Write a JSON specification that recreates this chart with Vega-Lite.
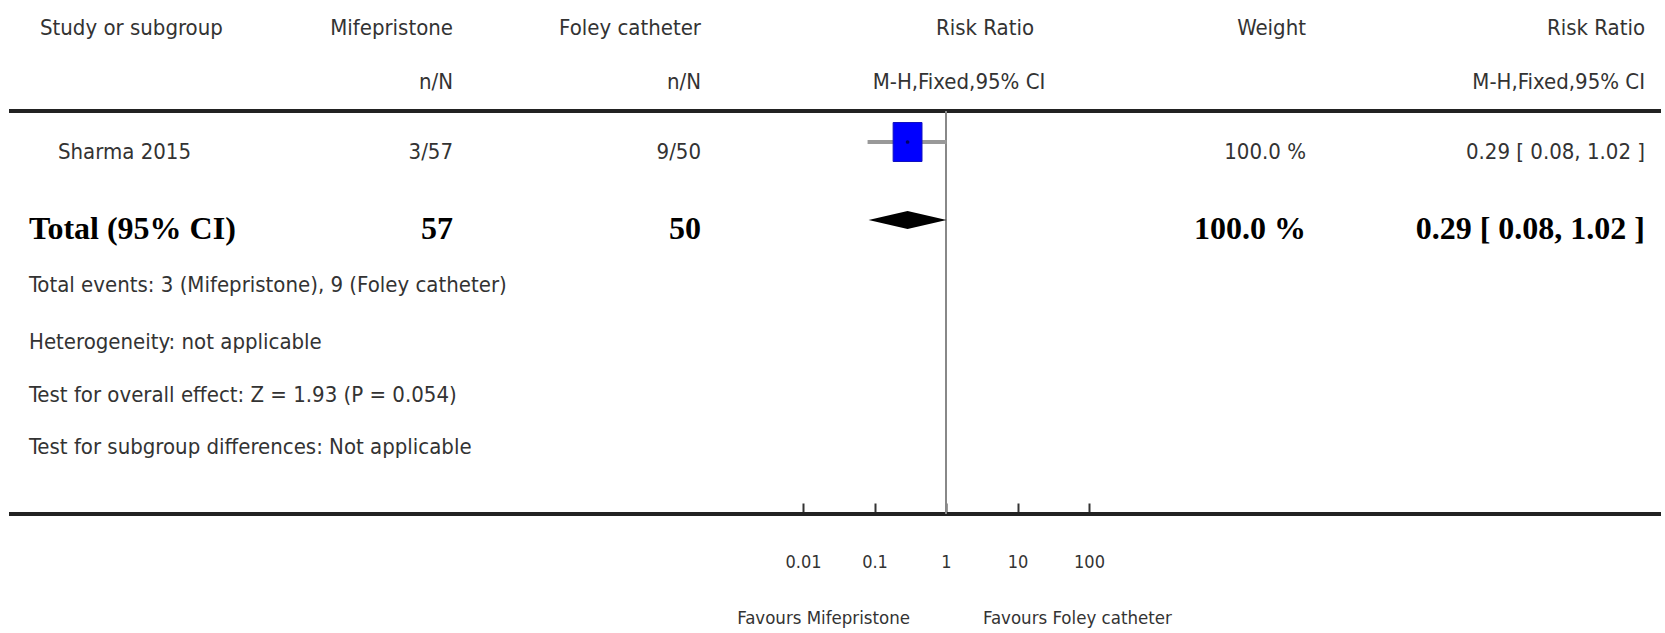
{
  "$schema": "https://vega.github.io/schema/vega-lite/v6.json",
  "width": 1665,
  "height": 514,
  "autosize": {"type": "none"},
  "padding": {"left": 0, "top": 0, "right": 0, "bottom": 119},
  "background": "white",
  "config": {"view": {"stroke": null}},
  "datasets": {
    "cells": [
      {"row": 0, "col": 2, "text": "Study or subgroup"},
      {"row": 0, "col": 4, "text": "Mifepristone"},
      {"row": 0, "col": 5, "text": "Foley catheter"},
      {"row": 0, "col": 7, "text": "Risk Ratio"},
      {"row": 0, "col": 8, "text": "Weight"},
      {"row": 0, "col": 9, "text": "Risk Ratio"},
      {"row": 1, "col": 4, "text": "n/N"},
      {"row": 1, "col": 5, "text": "n/N"},
      {"row": 1, "col": 6, "text": "M-H,Fixed,95% CI"},
      {"row": 1, "col": 9, "text": "M-H,Fixed,95% CI"},
      {"row": 3, "col": 3, "text": "Sharma 2015"},
      {"row": 3, "col": 4, "text": "3/57"},
      {"row": 3, "col": 5, "text": "9/50"},
      {"row": 3, "col": 8, "text": "100.0 %"},
      {"row": 3, "col": 9, "text": "0.29 [ 0.08, 1.02 ]"},
      {"row": 4, "col": 1, "text": "Total (95% CI)"},
      {"row": 4, "col": 4, "text": "57"},
      {"row": 4, "col": 5, "text": "50"},
      {"row": 4, "col": 8, "text": "100.0 %"},
      {"row": 4, "col": 9, "text": "0.29 [ 0.08, 1.02 ]"},
      {"row": 5, "col": 1, "text": "Total events: 3 (Mifepristone), 9 (Foley catheter)"},
      {"row": 6, "col": 1, "text": "Heterogeneity: not applicable"},
      {"row": 7, "col": 1, "text": "Test for overall effect: Z = 1.93 (P = 0.054)"},
      {"row": 8, "col": 1, "text": "Test for subgroup differences: Not applicable"}
    ],
    "rules": [
      {"kind": "top", "row": 2, "col": 0, "col2": 10},
      {"kind": "bottom", "row": 9, "col": 0, "col2": 10}
    ],
    "studies": [
      {"study": "Sharma 2015", "row": 3, "rr": 0.29, "lo": 0.08, "hi": 1.02, "weight": 100}
    ],
    "total": [
      {"row": 4, "rr": 0.29, "lo": 0.08, "hi": 1.02}
    ],
    "nullLine": [
      {"rr": 1, "row": 2, "row2": 9}
    ],
    "favours": [
      {"side": "left", "rr": 1, "row": 10, "text": "Favours Mifepristone"},
      {"side": "right", "rr": 1, "row": 10, "text": "Favours Foley catheter"}
    ]
  },
  "encoding": {
    "y": {
      "field": "row",
      "type": "quantitative",
      "scale": {
        "domain": [0, 1, 2, 3, 4, 5, 6, 7, 8, 9, 10],
        "range": [18, 72, 111, 142, 220, 275, 332, 385, 437, 514, 607],
        "nice": false,
        "zero": false
      },
      "axis": null
    }
  },
  "layer": [
    {
      "encoding": {
        "x": {
          "field": "col",
          "type": "quantitative",
          "scale": {
            "domain": [0, 1, 2, 3, 4, 5, 6, 7, 8, 9, 10],
            "range": [9, 29, 40, 58, 453, 701, 959, 985, 1306, 1645, 1661],
            "nice": false,
            "zero": false
          },
          "axis": null
        }
      },
      "layer": [
        {
          "data": {"name": "rules"},
          "mark": {"type": "rule", "color": "#222222", "strokeWidth": 4},
          "encoding": {"x2": {"field": "col2"}}
        },
        {
          "data": {"name": "cells"},
          "transform": [{"filter": "datum.row != 4 && datum.col <= 3"}],
          "mark": {"type": "text", "align": "left", "baseline": "alphabetic", "dy": 17, "font": "DejaVu Sans Condensed, DejaVu Sans, sans-serif", "fontSize": 22, "color": "#333333"},
          "encoding": {"text": {"field": "text"}}
        },
        {
          "data": {"name": "cells"},
          "transform": [{"filter": "datum.row != 4 && (datum.col == 4 || datum.col == 5 || datum.col == 8 || datum.col == 9)"}],
          "mark": {"type": "text", "align": "right", "baseline": "alphabetic", "dy": 17, "font": "DejaVu Sans Condensed, DejaVu Sans, sans-serif", "fontSize": 22, "color": "#333333"},
          "encoding": {"text": {"field": "text"}}
        },
        {
          "data": {"name": "cells"},
          "transform": [{"filter": "datum.col == 6 || datum.col == 7"}],
          "mark": {"type": "text", "align": "center", "baseline": "alphabetic", "dy": 17, "font": "DejaVu Sans Condensed, DejaVu Sans, sans-serif", "fontSize": 22, "color": "#333333"},
          "encoding": {"text": {"field": "text"}}
        },
        {
          "data": {"name": "cells"},
          "transform": [{"filter": "datum.row == 4 && datum.col <= 3"}],
          "mark": {"type": "text", "align": "left", "baseline": "alphabetic", "dy": 19, "font": "Liberation Serif, DejaVu Serif, serif", "fontWeight": "bold", "fontSize": 32, "color": "#000000"},
          "encoding": {"text": {"field": "text"}}
        },
        {
          "data": {"name": "cells"},
          "transform": [{"filter": "datum.row == 4 && datum.col >= 4"}],
          "mark": {"type": "text", "align": "right", "baseline": "alphabetic", "dy": 19, "font": "Liberation Serif, DejaVu Serif, serif", "fontWeight": "bold", "fontSize": 32, "color": "#000000"},
          "encoding": {"text": {"field": "text"}}
        }
      ]
    },
    {
      "layer": [
        {
          "data": {"name": "nullLine"},
          "mark": {"type": "rule", "color": "#888888", "strokeWidth": 2},
          "encoding": {
            "x": {
              "field": "rr", "type": "quantitative",
              "scale": {"type": "log", "domain": [0.01, 100], "range": [803, 1089], "nice": false},
              "axis": {"orient": "bottom", "values": [0.01, 0.1, 1, 10, 100], "format": "~g", "domain": false, "grid": false, "offset": -11, "tickSize": 11, "tickWidth": 2, "tickColor": "#333333", "labelFont": "DejaVu Sans Condensed, DejaVu Sans, sans-serif", "labelFontSize": 18, "labelColor": "#333333", "labelPadding": 39, "labelFlush": false, "labelOverlap": false, "title": null}
            },
            "y2": {"field": "row2"}
          }
        },
        {
          "data": {"name": "studies"},
          "mark": {"type": "rule", "color": "#999999", "strokeWidth": 4},
          "encoding": {
            "x": {"field": "lo", "type": "quantitative", "scale": {"type": "log", "domain": [0.01, 100], "range": [803, 1089], "nice": false}},
            "x2": {"field": "hi"}
          }
        },
        {
          "data": {"name": "studies"},
          "mark": {"type": "point", "shape": "M-0.74,-1L0.74,-1L0.74,1L-0.74,1Z", "filled": true, "color": "#0000FF", "opacity": 1, "size": 1521, "stroke": "#1010c0", "strokeWidth": 1},
          "encoding": {
            "x": {"field": "rr", "type": "quantitative", "scale": {"type": "log", "domain": [0.01, 100], "range": [803, 1089], "nice": false}}
          }
        },
        {
          "data": {"name": "studies"},
          "mark": {"type": "point", "shape": "circle", "filled": true, "color": "#000044", "opacity": 0.8, "size": 14},
          "encoding": {
            "x": {"field": "rr", "type": "quantitative", "scale": {"type": "log", "domain": [0.01, 100], "range": [803, 1089], "nice": false}}
          }
        },
        {
          "data": {"name": "total"},
          "mark": {"type": "point", "shape": "M-1,0L0,-0.23L1,0L0,0.23Z", "filled": true, "color": "#000000", "opacity": 1, "size": 6084},
          "encoding": {
            "x": {"field": "rr", "type": "quantitative", "scale": {"type": "log", "domain": [0.01, 100], "range": [803, 1089], "nice": false}}
          }
        },
        {
          "data": {"name": "favours"},
          "transform": [{"filter": "datum.side == 'left'"}],
          "mark": {"type": "text", "align": "right", "baseline": "alphabetic", "dx": -36, "dy": 17, "font": "DejaVu Sans Condensed, DejaVu Sans, sans-serif", "fontSize": 18.5, "color": "#333333"},
          "encoding": {
            "x": {"field": "rr", "type": "quantitative", "scale": {"type": "log", "domain": [0.01, 100], "range": [803, 1089], "nice": false}},
            "text": {"field": "text"}
          }
        },
        {
          "data": {"name": "favours"},
          "transform": [{"filter": "datum.side == 'right'"}],
          "mark": {"type": "text", "align": "left", "baseline": "alphabetic", "dx": 37, "dy": 17, "font": "DejaVu Sans Condensed, DejaVu Sans, sans-serif", "fontSize": 18.5, "color": "#333333"},
          "encoding": {
            "x": {"field": "rr", "type": "quantitative", "scale": {"type": "log", "domain": [0.01, 100], "range": [803, 1089], "nice": false}},
            "text": {"field": "text"}
          }
        }
      ]
    }
  ],
  "resolve": {"scale": {"x": "independent"}}
}
